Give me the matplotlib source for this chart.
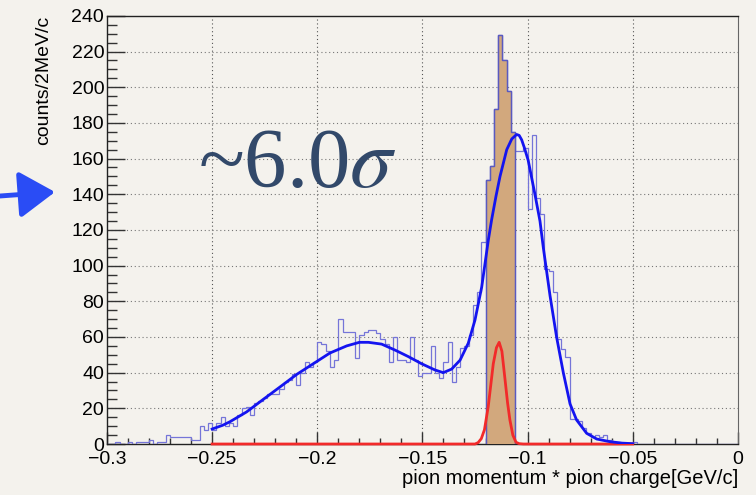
import matplotlib
matplotlib.use('Agg')
import matplotlib.pyplot as plt
from matplotlib.ticker import MultipleLocator
import numpy as np

plt.rcParams['font.family'] = ['Liberation Sans', 'DejaVu Sans']
plt.rcParams['mathtext.fontset'] = 'stix'

# histogram: 2 MeV bins from -0.3 to 0 GeV/c
bin_lo = -0.3
bin_width = 0.002
counts = [
  0, 0, 1, 0, 0, 1, 0, 1, 1, 1,
  2, 0, 1, 1, 5, 4, 4, 4, 4, 4,
  2, 2, 10, 8, 12, 8, 12, 15, 10, 12,
  10, 16, 20, 21, 16, 23, 24, 26, 28, 28,
  28, 31, 35, 36, 39, 33, 40, 46, 43, 46,
  57, 56, 52, 43, 47, 70, 63, 63, 63, 48,
  61, 63, 64, 64, 62, 59, 56, 46, 60, 47,
  47, 46, 60, 47, 38, 40, 40, 55, 40, 37,
  46, 57, 35, 43, 54, 55, 61, 78, 85, 113,
  148, 156, 188, 229, 215, 198, 175, 164, 164, 166,
  132, 173, 138, 129, 98, 97, 85, 59, 53, 49,
  14, 14, 13, 9, 6, 4, 5, 4, 5, 2,
  1, 1, 0, 0, 0, 1, 0, 0, 0, 0,
  0, 0, 0, 0, 0, 0, 0, 0, 0, 0,
  0, 0, 0, 0, 0, 0, 0, 0, 0, 0,
]
# selected (filled) bins
sel_first = 90
sel_last = 96

# total fit (blue)
fit_x = [-0.250, -0.245, -0.2415, -0.2336, -0.2257, -0.2177, -0.2098, -0.2019, -0.194, -0.186,
         -0.180, -0.1757, -0.1694, -0.1631, -0.1567, -0.1504, -0.144, -0.1401, -0.1361, -0.1321,
         -0.1282, -0.125, -0.1218, -0.1187, -0.1171, -0.1150, -0.1131, -0.1099, -0.1075, -0.1052,
         -0.1040, -0.1028, -0.1015, -0.0997, -0.0965, -0.0941, -0.0925, -0.0893, -0.0862, -0.083,
         -0.0798, -0.0767, -0.0719, -0.0671, -0.0608, -0.0550, -0.050]
fit_y = [8.4, 10.5, 12.5, 18, 25, 32, 39, 45, 51, 55,
         57, 57, 56, 52.7, 49, 45, 41.5, 40, 42, 47,
         56.5, 69.5, 88, 114, 125.6, 139, 150, 165, 171, 173.5,
         173, 170.5, 166, 159, 140, 125, 110, 83, 60, 40,
         22.5, 13.5, 6, 2.8, 1.3, 0.5, 0.2]

# signal component (red)
sig_x = [-0.25, -0.125, -0.1235, -0.122, -0.1205, -0.1187, -0.1175, -0.1163, -0.1148, -0.1135,
         -0.1122, -0.1107, -0.1095, -0.1084, -0.107, -0.1055, -0.104, -0.102, -0.05]
sig_y = [0, 0, 0.8, 3, 8, 21, 33, 45, 54, 57,
         52, 36, 23, 13.5, 5, 1, 0.2, 0, 0]

x_ticks = [-0.3, -0.25, -0.2, -0.15, -0.1, -0.05, 0]
x_tick_labels = ['\u22120.3', '\u22120.25', '\u22120.2', '\u22120.15', '\u22120.1', '\u22120.05', '0']
y_ticks = [0, 20, 40, 60, 80, 100, 120, 140, 160, 180, 200, 220, 240]

bg = '#f4f2ed'
fig = plt.figure(figsize=(7.56, 4.95), dpi=100, facecolor=bg)
ax = fig.add_axes([0.1415, 0.103, 0.8345, 0.865])
ax.set_facecolor(bg)

edges = bin_lo + bin_width * np.arange(len(counts) + 1)
ax.stairs(counts, edges, color='#7575d8', lw=0.9, zorder=3)
ax.stairs(counts[sel_first:sel_last + 1], edges[sel_first:sel_last + 2], fill=True,
          facecolor='#d2a87d', edgecolor='#5a5ac0', lw=0.9, zorder=4)
ax.stairs(counts[sel_first:sel_last + 1], edges[sel_first:sel_last + 2],
          color='#5a5ac0', lw=0.9, zorder=5)

ax.plot(sig_x, sig_y, color='#f22a2a', lw=2.0, zorder=6, clip_on=False)
ax.plot(fit_x, fit_y, color='#1414f0', lw=2.0, zorder=7)

ax.set_xlim(-0.3, 0)
ax.set_ylim(0, 240)
ax.set_xticks(x_ticks)
ax.set_xticklabels(x_tick_labels)
ax.set_yticks(y_ticks)
ax.xaxis.set_minor_locator(MultipleLocator(0.01))
ax.yaxis.set_minor_locator(MultipleLocator(5))
ax.tick_params(which='both', direction='in', top=False, right=False, labelsize=14, color='#333333')
ax.tick_params(axis='y', which='major', length=13, width=1, pad=2)
ax.tick_params(axis='y', which='minor', length=7, width=1)
ax.tick_params(axis='x', which='major', length=9, width=1, pad=5)
ax.tick_params(axis='x', which='minor', length=4.5, width=1)

for v in x_ticks[1:-1]:
  ax.axvline(v, color='#555555', lw=0.8, linestyle=(0, (1, 2.5)), zorder=1)
for v in y_ticks[1:-1]:
  ax.axhline(v, color='#777777', lw=0.8, linestyle=(0, (1, 2.5)), zorder=1)

for s in ['left', 'bottom', 'top']:
  ax.spines[s].set_color('#222222')
  ax.spines[s].set_linewidth(1.0)
ax.spines['right'].set_color('#666666')

ax.set_ylabel('counts/2MeV/c', fontsize=14, loc='top', labelpad=14)
ax.set_xlabel('pion momentum * pion charge[GeV/c]', fontsize=14.5, loc='right', labelpad=1)

ax.text(0.144, 0.600, '~6.0$\\sigma$', transform=ax.transAxes, fontsize=61,
        family=['Liberation Serif', 'DejaVu Serif'], color='#32496a', ha='left', va='baseline', zorder=8)

# hand drawn pointer on the left
ax.annotate('', xy=(55, 495 - 192), xytext=(0, 495 - 196), xycoords='figure pixels',
            textcoords='figure pixels', annotation_clip=False,
            arrowprops=dict(arrowstyle='-|>,head_length=1.0,head_width=0.65', lw=3.5,
                            color='#2a4cf5', mutation_scale=22, shrinkA=0, shrinkB=0))

fig.savefig('out.png', dpi=100, facecolor=bg)
